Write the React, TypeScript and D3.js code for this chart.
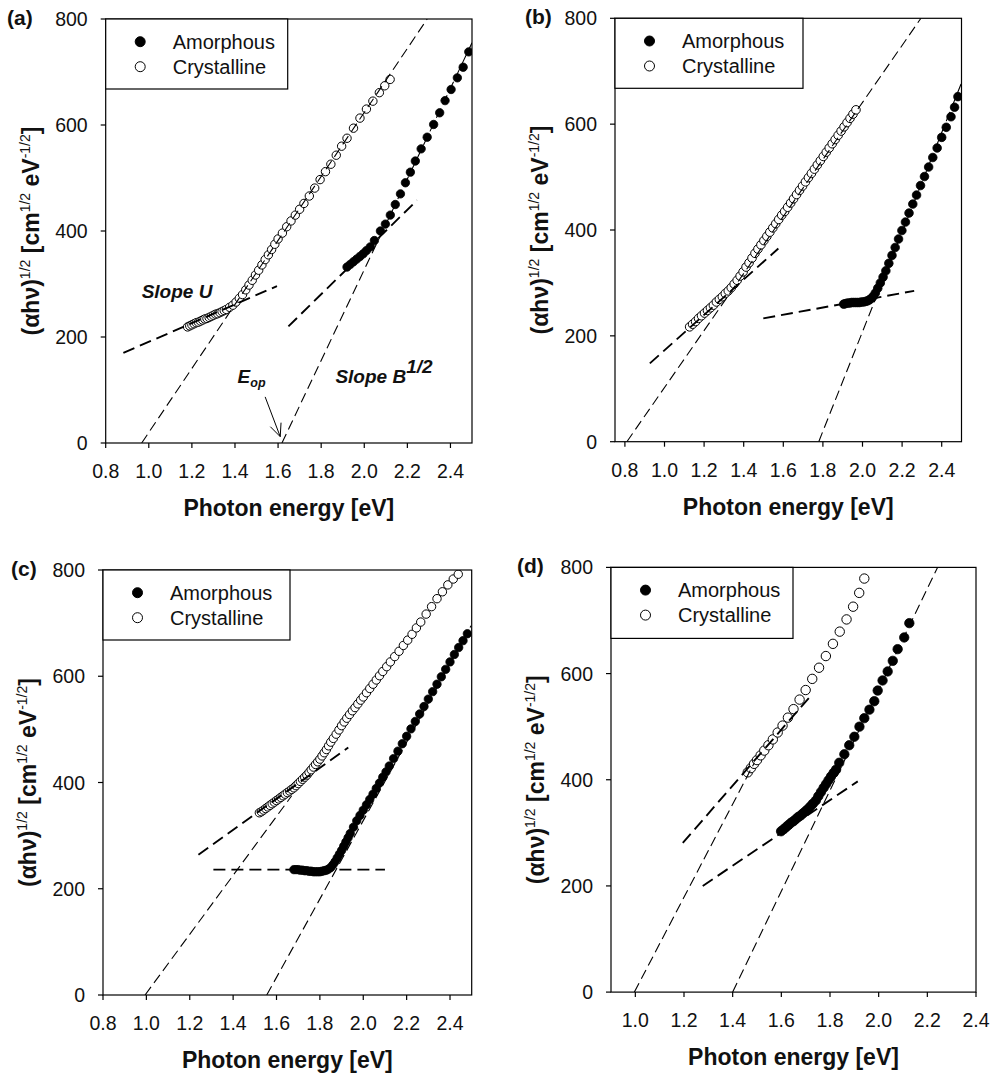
import React from "react";
import * as d3 from "d3";

const FONT = "'Liberation Sans', Arial, Helvetica, sans-serif";

// ---------- Panel (a) ----------
const aAmorX = [1.920, 1.935, 1.950, 1.965, 1.980, 1.995, 2.010, 2.028, 2.047, 2.075, 2.098, 2.121, 2.144, 2.168, 2.191, 2.214, 2.237, 2.264, 2.292, 2.322, 2.350, 2.375, 2.403, 2.432, 2.459, 2.485];
const aAmorY = [332, 337, 342, 347, 352, 357, 363, 370, 382, 400, 413, 430, 450, 470, 491, 511, 532, 555, 577, 601, 623, 646, 667, 689, 709, 738];
const aCrysX = [1.18, 1.19, 1.20, 1.21, 1.22, 1.23, 1.24, 1.25, 1.26, 1.27, 1.28, 1.29, 1.30, 1.31, 1.32, 1.33, 1.34, 1.35, 1.36, 1.375, 1.39, 1.405, 1.42, 1.435, 1.45, 1.465, 1.48, 1.495, 1.51, 1.525, 1.54, 1.555, 1.57, 1.585, 1.60, 1.62, 1.64, 1.66, 1.68, 1.70, 1.72, 1.745, 1.77, 1.795, 1.82, 1.845, 1.87, 1.895, 1.92, 1.95, 1.98, 2.01, 2.04, 2.07, 2.095, 2.12];
const aCrysY = [219, 221, 223, 225, 227, 228, 230, 232, 234, 235, 237, 239, 241, 243, 244, 246, 248, 250, 252, 256, 260, 266, 273, 280, 289, 298, 307, 317, 326, 336, 346, 355, 365, 375, 385, 396, 408, 419, 430, 441, 452, 466, 481, 497, 512, 526, 543, 560, 575, 594, 613, 630, 645, 661, 674, 686];
const aThinLines = [[0.967, 0, 2.292, 800], [1.618, 0, 2.5, 755]];
const aThickLines = [[0.882, 170, 1.595, 296], [1.648, 220, 2.245, 458]];

// ---------- Panel (b) ----------
const bAmorX = [1.905, 1.915, 1.925, 1.935, 1.945, 1.955, 1.965, 1.975, 1.985, 1.995, 2.005, 2.015, 2.025, 2.035, 2.045, 2.055, 2.065, 2.077, 2.09, 2.104, 2.118, 2.133, 2.149, 2.165, 2.182, 2.199, 2.217, 2.235, 2.254, 2.273, 2.293, 2.313, 2.334, 2.355, 2.377, 2.40, 2.423, 2.447, 2.465, 2.482];
const bAmorY = [260, 261, 262, 262, 263, 263, 263, 263, 263, 264, 264, 265, 266, 268, 271, 275, 281, 290, 300, 311, 323, 337, 352, 367, 383, 399, 415, 432, 449, 466, 484, 501, 519, 537, 555, 575, 594, 614, 632, 652];
const bCrysX = [1.127, 1.142, 1.157, 1.172, 1.187, 1.202, 1.217, 1.232, 1.247, 1.262, 1.277, 1.292, 1.307, 1.322, 1.337, 1.352, 1.367, 1.382, 1.397, 1.412, 1.427, 1.442, 1.457, 1.472, 1.487, 1.502, 1.517, 1.532, 1.547, 1.562, 1.577, 1.592, 1.607, 1.622, 1.637, 1.652, 1.667, 1.682, 1.697, 1.712, 1.727, 1.742, 1.757, 1.772, 1.787, 1.802, 1.817, 1.832, 1.847, 1.862, 1.877, 1.892, 1.907, 1.922, 1.937, 1.952, 1.967];
const bCrysY = [217, 222, 227, 233, 238, 243, 248, 253, 258, 264, 269, 274, 280, 285, 291, 298, 305, 313, 321, 330, 338, 347, 356, 364, 372, 380, 388, 396, 404, 412, 420, 428, 435, 443, 451, 459, 467, 475, 483, 491, 499, 507, 515, 523, 531, 539, 547, 555, 563, 571, 579, 587, 595, 603, 611, 619, 627];
const bThinLines = [[0.81, 0, 2.295, 800], [1.779, 0, 2.5, 678]];
const bThickLines = [[0.926, 148, 1.575, 365], [1.499, 233, 2.261, 285]];

// ---------- Panel (c) ----------
const cAmorX = [1.68, 1.69, 1.70, 1.71, 1.72, 1.73, 1.74, 1.75, 1.76, 1.77, 1.78, 1.79, 1.80, 1.81, 1.82, 1.83, 1.84, 1.85, 1.86, 1.87, 1.88, 1.89, 1.90, 1.91, 1.92, 1.93, 1.94, 1.955, 1.97, 1.985, 2.00, 2.015, 2.03, 2.045, 2.06, 2.075, 2.09, 2.105, 2.12, 2.14, 2.16, 2.18, 2.20, 2.22, 2.24, 2.26, 2.28, 2.30, 2.32, 2.34, 2.36, 2.38, 2.40, 2.42, 2.44, 2.46, 2.48];
const cAmorY = [236, 236, 236, 235, 235, 234, 234, 233, 233, 232, 232, 232, 232, 233, 234, 235, 237, 240, 245, 251, 258, 265, 272, 280, 288, 296, 304, 316, 328, 338, 348, 358, 368, 378, 389, 399, 410, 420, 431, 445, 459, 473, 487, 501, 515, 529, 543, 557, 571, 585, 599, 613, 627, 641, 654, 667, 680];
const cCrysX = [1.521, 1.53, 1.54, 1.55, 1.56, 1.57, 1.58, 1.59, 1.60, 1.61, 1.62, 1.63, 1.64, 1.65, 1.66, 1.67, 1.68, 1.69, 1.70, 1.71, 1.72, 1.73, 1.74, 1.75, 1.76, 1.77, 1.78, 1.79, 1.80, 1.81, 1.82, 1.83, 1.84, 1.85, 1.862, 1.875, 1.888, 1.90, 1.912, 1.924, 1.937, 1.95, 1.962, 1.975, 1.988, 2.00, 2.015, 2.03, 2.045, 2.06, 2.075, 2.09, 2.108, 2.125, 2.145, 2.165, 2.185, 2.205, 2.225, 2.245, 2.265, 2.29, 2.315, 2.34, 2.365, 2.39, 2.415, 2.438];
const cCrysY = [343, 345, 348, 351, 354, 357, 360, 363, 366, 369, 372, 375, 378, 381, 384, 387, 390, 394, 398, 402, 406, 410, 414, 419, 424, 429, 434, 439, 444, 450, 456, 462, 469, 476, 483, 491, 499, 507, 514, 521, 528, 535, 541, 548, 555, 561, 569, 577, 585, 593, 601, 609, 618, 627, 637, 647, 658, 668, 679, 691, 702, 717, 731, 746, 759, 772, 783, 792];
const cThinLines = [[0.994, 0, 1.67, 375], [1.555, 0, 2.497, 695]];
const cThickLines = [[1.24, 264, 1.931, 466], [1.309, 236, 2.10, 236]];

// ---------- Panel (d) ----------
const dAmorX = [1.599, 1.61, 1.62, 1.63, 1.64, 1.65, 1.66, 1.67, 1.68, 1.69, 1.70, 1.71, 1.72, 1.73, 1.742, 1.752, 1.763, 1.774, 1.784, 1.794, 1.804, 1.815, 1.825, 1.838, 1.859, 1.879, 1.90, 1.921, 1.941, 1.962, 1.982, 1.996, 2.016, 2.037, 2.058, 2.078, 2.105, 2.126];
const dAmorY = [303, 307, 311, 315, 319, 322, 326, 330, 333, 337, 341, 345, 350, 355, 361, 369, 377, 385, 392, 399, 406, 413, 419, 432, 448, 465, 481, 500, 516, 532, 548, 568, 587, 604, 624, 646, 668, 695];
const dCrysX = [1.462, 1.475, 1.488, 1.50, 1.515, 1.53, 1.547, 1.565, 1.585, 1.605, 1.627, 1.65, 1.675, 1.70, 1.727, 1.755, 1.783, 1.812, 1.84, 1.868, 1.895, 1.92, 1.941];
const dCrysY = [414, 422, 430, 437, 446, 455, 465, 476, 489, 502, 517, 533, 551, 569, 590, 611, 633, 656, 679, 702, 726, 752, 779];
const dThinLines = [[0.996, 0, 1.489, 432], [1.40, 0, 2.242, 800]];
const dThickLines = [[1.195, 281, 1.715, 555], [1.277, 200, 1.914, 397]];

const yTickValues = [0, 200, 400, 600, 800];
const xTicksABC = [0.8, 1.0, 1.2, 1.4, 1.6, 1.8, 2.0, 2.2, 2.4];
const xTicksD = [1.0, 1.2, 1.4, 1.6, 1.8, 2.0, 2.2, 2.4];
const legendLabels = ["Amorphous", "Crystalline"];

type Panel = {
  id: string;
  left: number; top: number; width: number; height: number;
  xDomain: [number, number];
  xTicks: number[];
  legendW: number; legendH: number;
  labelX: number;
  amorX: number[]; amorY: number[];
  crysX: number[]; crysY: number[];
  thin: number[][]; thick: number[][];
  r: number;
};

const panels: Panel[] = [
  { id: "(a)", left: 105.7, top: 19, width: 366.3, height: 424, xDomain: [0.8, 2.5], xTicks: xTicksABC, legendW: 182, legendH: 70, labelX: 7,
    amorX: aAmorX, amorY: aAmorY, crysX: aCrysX, crysY: aCrysY, thin: aThinLines, thick: aThickLines, r: 4.2 },
  { id: "(b)", left: 615, top: 18.3, width: 346.5, height: 423.4, xDomain: [0.75, 2.5], xTicks: xTicksABC, legendW: 188, legendH: 70, labelX: 525,
    amorX: bAmorX, amorY: bAmorY, crysX: bCrysX, crysY: bCrysY, thin: bThinLines, thick: bThickLines, r: 4.3 },
  { id: "(c)", left: 103, top: 570, width: 368.7, height: 425, xDomain: [0.8, 2.5], xTicks: xTicksABC, legendW: 187, legendH: 70, labelX: 11,
    amorX: cAmorX, amorY: cAmorY, crysX: cCrysX, crysY: cCrysY, thin: cThinLines, thick: cThickLines, r: 4.2 },
  { id: "(d)", left: 611, top: 567.4, width: 365, height: 424.7, xDomain: [0.9, 2.4], xTicks: xTicksD, legendW: 182, legendH: 71, labelX: 517,
    amorX: dAmorX, amorY: dAmorY, crysX: dCrysX, crysY: dCrysY, thin: dThinLines, thick: dThickLines, r: 4.7 },
];

function PanelG({ p }: { p: Panel }) {
  const x = d3.scaleLinear().domain(p.xDomain).range([p.left, p.left + p.width]);
  const y = d3.scaleLinear().domain([0, 800]).range([p.top + p.height, p.top]);
  const bottom = p.top + p.height;
  const fmtX = d3.format(".1f");
  const clipId = "clip" + p.id.replace(/[()]/g, "");
  const isA = p.id === "(a)";

  let arrow: React.ReactNode = null;
  if (isA) {
    const x1 = x(1.540), y1 = y(87), x2 = x(1.610), y2 = y(12);
    const ang = Math.atan2(y2 - y1, x2 - x1);
    const L = 14, spread = 0.42;
    const h1 = [x2 - L * Math.cos(ang - spread), y2 - L * Math.sin(ang - spread)];
    const h2 = [x2 - L * Math.cos(ang + spread), y2 - L * Math.sin(ang + spread)];
    arrow = (
      <g stroke="#000" strokeWidth={1} fill="none">
        <line x1={x1} y1={y1} x2={x2} y2={y2} />
        <polyline points={`${h1[0]},${h1[1]} ${x2},${y2} ${h2[0]},${h2[1]}`} />
      </g>
    );
  }

  return (
    <g>
      <defs>
        <clipPath id={clipId}>
          <rect x={p.left} y={p.top} width={p.width} height={p.height} />
        </clipPath>
      </defs>
      <g clipPath={`url(#${clipId})`}>
        {p.crysX.map((v, i) => (
          <circle key={"c" + i} cx={x(v)} cy={y(p.crysY[i])} r={p.r} fill="#fff" stroke="#000" strokeWidth={1} />
        ))}
        {p.amorX.map((v, i) => (
          <circle key={"a" + i} cx={x(v)} cy={y(p.amorY[i])} r={p.r} fill="#000" stroke="#000" strokeWidth={0.8} />
        ))}
        {p.thin.map((s, i) => (
          <line key={"t" + i} x1={x(s[0])} y1={y(s[1])} x2={x(s[2])} y2={y(s[3])} stroke="#000" strokeWidth={1.1} strokeDasharray="10 5" />
        ))}
        {p.thick.map((s, i) => (
          <line key={"k" + i} x1={x(s[0])} y1={y(s[1])} x2={x(s[2])} y2={y(s[3])} stroke="#000" strokeWidth={1.9} strokeDasharray="12 6" />
        ))}
      </g>
      <rect x={p.left} y={p.top} width={p.width} height={p.height} fill="none" stroke="#000" strokeWidth={1.2} />
      <rect x={p.left} y={p.top} width={p.legendW} height={p.legendH} fill="#fff" stroke="#000" strokeWidth={1.2} />
      {legendLabels.map((lab, i) => (
        <g key={lab}>
          <circle cx={p.left + 34.5} cy={p.top + 22.7 + i * 25} r={5} fill={i === 0 ? "#000" : "#fff"} stroke="#000" strokeWidth={1} />
          <text x={p.left + 67} y={p.top + 22.7 + i * 25 + 7} fontSize={20} fill="#111">{lab}</text>
        </g>
      ))}
      {p.xTicks.map((t) => (
        <g key={"xt" + t}>
          <line x1={x(t)} x2={x(t)} y1={bottom} y2={bottom + 5} stroke="#000" strokeWidth={1.2} />
          <text x={x(t)} y={bottom + 35} textAnchor="middle" fontSize={19.5} fill="#111">{fmtX(t)}</text>
        </g>
      ))}
      {yTickValues.map((t) => (
        <g key={"yt" + t}>
          <line x1={p.left - 5} x2={p.left} y1={y(t)} y2={y(t)} stroke="#000" strokeWidth={1.2} />
          <text x={p.left - 18} y={y(t) + 7} textAnchor="end" fontSize={19.5} fill="#111">{t}</text>
        </g>
      ))}
      <text x={p.left + p.width / 2} y={bottom + 73} textAnchor="middle" fontSize={23} fontWeight="bold" fill="#111">Photon energy [eV]</text>
      <text transform={`translate(${p.left - 67},${p.top + p.height / 2}) rotate(-90)`} textAnchor="middle" fontSize={23} fontWeight="bold" fill="#111">
        {"(αhν)"}
        <tspan fontSize={14} fontWeight="normal" dy={-9}>1/2</tspan>
        <tspan dy={9}>{" [cm"}</tspan>
        <tspan fontSize={14} fontWeight="normal" dy={-9}>1/2</tspan>
        <tspan dy={9}>{" eV"}</tspan>
        <tspan fontSize={14} fontWeight="normal" dy={-9}>-1/2</tspan>
        <tspan dy={9}>]</tspan>
      </text>
      <text x={p.labelX} y={p.top + 6} fontSize={21} fontWeight="bold" fill="#111">{p.id}</text>
      {isA && (
        <g fontWeight="bold" fontStyle="italic" fill="#111">
          <text x={x(0.967)} y={y(273)} fontSize={19}>Slope U</text>
          <text x={x(1.412)} y={y(113)} fontSize={19}>E<tspan fontSize={12.5} dy={4}>op</tspan></text>
          <text x={x(1.866)} y={y(114)} fontSize={19}>Slope B<tspan dy={-10}>1/2</tspan></text>
          {arrow}
        </g>
      )}
    </g>
  );
}

export default function App() {
  return (
    <svg width={991} height={1077} style={{ position: "absolute", left: 0, top: 0, background: "#fff" }} fontFamily={FONT}>
      <rect x={0} y={0} width={991} height={1077} fill="#fff" />
      {panels.map((p) => (
        <PanelG key={p.id} p={p} />
      ))}
    </svg>
  );
}
